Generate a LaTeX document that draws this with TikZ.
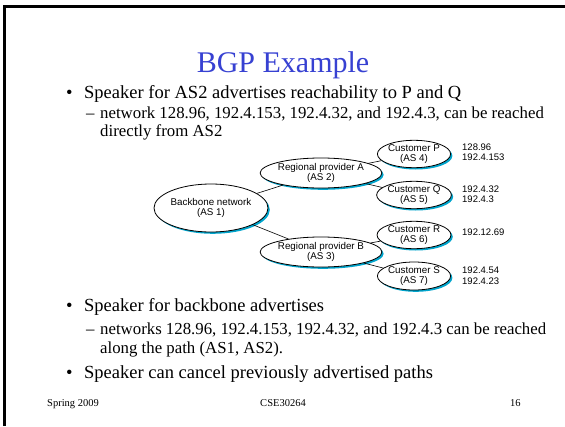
\documentclass[tikz,border=0pt]{standalone}
\usepackage{fontspec}
\setmainfont{Liberation Serif}
\newfontfamily\diagfont{Liberation Sans}
\usetikzlibrary{shapes.geometric,shadows}
\definecolor{titleblue}{RGB}{55,65,210}
\definecolor{shadowc}{RGB}{0,165,205}
\begin{document}
\begin{tikzpicture}[x=1pt,y=-1pt,
  txt/.style={anchor=base west, inner sep=0pt},
  lvlone/.style={txt, font=\fontsize{18.5}{18.5}\selectfont},
  lvltwo/.style={txt, font=\fontsize{16.8}{16.8}\selectfont},
  foot/.style={txt, font=\fontsize{10.5}{10.5}\selectfont},
  asnode/.style={ellipse, draw=black, line width=0.8pt, fill=white, inner sep=0pt,
    align=center, font=\diagfont\fontsize{9.8}{10.5}\selectfont,
    drop shadow={shadow xshift=1.8pt, shadow yshift=-1.8pt, fill=shadowc, opacity=1}},
  link/.style={draw=black, line width=0.6pt},
  lbl/.style={anchor=west, inner sep=0pt, align=left, font=\diagfont\fontsize{9.5}{10.5}\selectfont}]
\useasboundingbox (0,0) rectangle (565,426);
\fill[white] (0,0) rectangle (565,426);
% frame
\coordinate (fbl) at (4.5,426);
\coordinate (ftl) at (4.5,6.3);
\coordinate (ftr) at (565,6.3);
\draw[line width=2.6pt] (fbl) -- (ftl) -- (ftr);
% title
\node[anchor=base, inner sep=0pt, font=\fontsize{30}{30}\selectfont, text=titleblue] (title) at (283,72) {BGP Example};
% first bullet
\node[lvlone] (b1dot) at (66,98) {•};
\node[lvlone] (b1) at (84,98) {Speaker for AS2 advertises reachability to P and Q};
\node[lvltwo] (s1dash) at (86,118) {–};
\node[lvltwo] (s1a) at (100,118) {network 128.96, 192.4.153, 192.4.32, and 192.4.3, can be reached};
\node[lvltwo] (s1b) at (100,136) {directly from AS2};
% diagram
\node[asnode, minimum width=108pt, minimum height=48pt] (bb) at (211,208) {Backbone network\\(AS 1)};
\node[asnode, minimum width=97pt, minimum height=30pt] (ra) at (321,173) {Regional provider A\\(AS 2)};
\node[asnode, minimum width=97pt, minimum height=30pt] (rb) at (321,252) {Regional provider B\\(AS 3)};
\node[asnode, minimum width=62pt, minimum height=26pt] (cp) at (414,154) {Customer P\\(AS 4)};
\node[asnode, minimum width=62pt, minimum height=26pt] (cq) at (414,195) {Customer Q\\(AS 5)};
\node[asnode, minimum width=62pt, minimum height=27pt] (cr) at (414,235) {Customer R\\(AS 6)};
\node[asnode, minimum width=62pt, minimum height=28pt] (cs) at (414,276) {Customer S\\(AS 7)};
\draw[link] (bb) -- (ra);
\draw[link] (bb) -- (rb);
\draw[link] (ra) -- (cp);
\draw[link] (ra) -- (cq);
\draw[link] (rb) -- (cr);
\draw[link] (rb) -- (cs);
\node[lbl] (lp) at (462,152) {128.96\\192.4.153};
\node[lbl] (lq) at (462,194) {192.4.32\\192.4.3};
\node[lbl] (lr) at (462,232.5) {192.12.69};
\node[lbl] (ls) at (462,275.5) {192.4.54\\192.4.23};
% second bullet
\node[lvlone] (b2dot) at (66,311) {•};
\node[lvlone] (b2) at (84,311) {Speaker for backbone advertises};
\node[lvltwo] (s2dash) at (86,334) {–};
\node[lvltwo] (s2a) at (100,334) {networks 128.96, 192.4.153, 192.4.32, and 192.4.3 can be reached};
\node[lvltwo] (s2b) at (100,353) {along the path (AS1, AS2).};
% third bullet
\node[lvlone] (b3dot) at (66,378) {•};
\node[lvlone] (b3) at (84,378) {Speaker can cancel previously advertised paths};
% footer
\node[foot] (f1) at (47,406) {Spring 2009};
\node[foot, anchor=base] (f2) at (283,406) {CSE30264};
\node[foot] (f3) at (510,406) {16};
\end{tikzpicture}
\end{document}
